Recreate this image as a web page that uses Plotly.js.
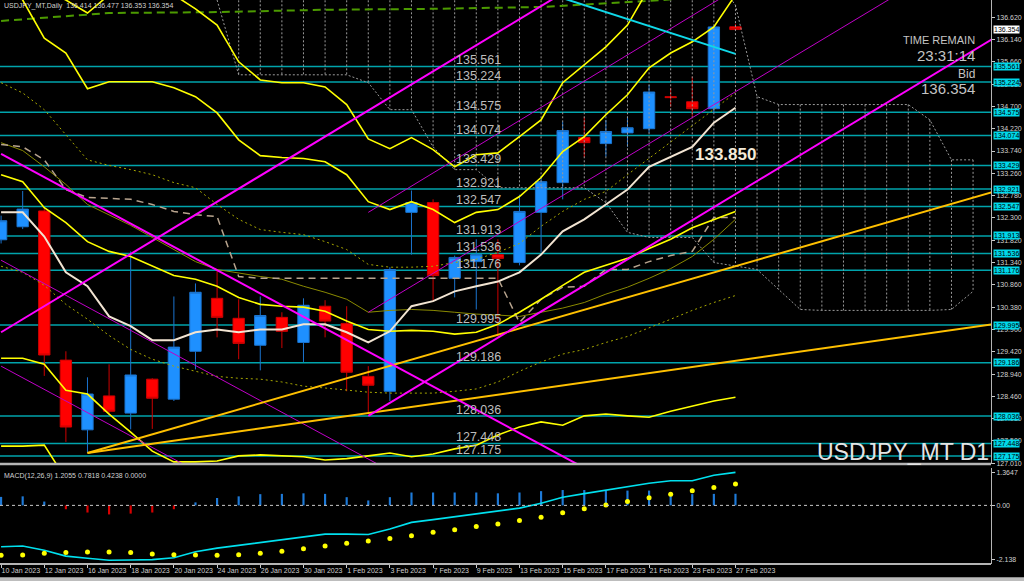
<!DOCTYPE html>
<html><head><meta charset="utf-8">
<script src="https://cdn.plot.ly/plotly-3.0.1.min.js"></script>
<style>html,body{margin:0;padding:0;background:#000;overflow:hidden}#chart{width:1024px;height:581px}</style>
</head><body><div id="chart"></div>
<script>
// ---------- data ----------
const dates = ["10 Jan 2023","11 Jan 2023","12 Jan 2023","13 Jan 2023","16 Jan 2023","17 Jan 2023","18 Jan 2023","19 Jan 2023","20 Jan 2023","23 Jan 2023","24 Jan 2023","25 Jan 2023","26 Jan 2023","27 Jan 2023","30 Jan 2023","31 Jan 2023","1 Feb 2023","2 Feb 2023","3 Feb 2023","6 Feb 2023","7 Feb 2023","8 Feb 2023","9 Feb 2023","10 Feb 2023","13 Feb 2023","14 Feb 2023","15 Feb 2023","16 Feb 2023","17 Feb 2023","20 Feb 2023","21 Feb 2023","22 Feb 2023","23 Feb 2023","24 Feb 2023","27 Feb 2023"];
const openP  = [131.83,132.11,132.45,129.24,127.74,128.47,128.10,128.83,128.40,129.43,130.57,130.14,129.56,130.16,129.62,130.40,130.03,128.89,128.57,132.42,132.63,131.00,131.36,131.51,131.34,132.42,133.06,134.03,133.90,134.13,134.22,134.91,134.80,134.65,136.414];
const highP  = [132.35,132.88,132.51,129.43,128.87,129.15,131.58,128.85,130.61,130.89,131.19,130.55,130.61,130.27,130.57,130.53,130.40,129.11,131.24,132.89,132.70,131.49,131.84,131.84,132.80,133.21,134.37,134.48,134.41,134.48,135.16,135.10,135.34,136.43,136.477];
const lowP   = [131.75,132.06,128.90,127.48,127.24,128.08,127.75,127.76,128.36,129.04,129.73,129.26,129.02,129.50,129.20,129.73,128.57,128.08,128.36,131.51,130.51,130.59,130.33,129.75,131.28,131.56,132.70,133.60,133.62,133.83,134.13,134.69,134.48,134.56,136.353];
const closeP = [132.24,132.49,129.35,127.80,128.51,128.14,128.92,128.42,129.52,130.70,130.16,129.60,130.20,129.86,130.42,130.08,128.98,128.70,131.19,132.63,131.06,131.45,131.51,131.43,132.44,133.08,134.18,133.92,134.16,134.24,135.01,134.89,134.65,136.41,136.354];

// indicator lines (one value per date)
const whiteMA   = [132.42,132.42,131.90,131.13,130.83,130.18,129.97,129.67,129.67,129.84,129.90,129.84,129.90,129.90,130.01,130.01,129.84,129.62,129.86,130.40,130.51,130.72,130.83,130.93,131.13,131.51,132.01,132.27,132.59,132.91,133.40,133.62,133.83,134.35,134.67];
const bandUpper = [137.63,137.42,137.20,136.99,136.71,137.10,137.31,137.25,137.10,136.80,136.45,135.66,135.27,135.21,135.21,135.12,134.74,134.00,133.79,134.03,133.77,133.40,133.66,133.70,134.05,134.41,135.21,135.59,135.98,136.45,137.25,137.63,137.96,138.28,138.60];
const bandMid   = [137.42,136.99,136.17,135.85,135.08,135.23,135.23,135.23,135.10,134.91,134.56,133.98,133.64,133.60,133.58,133.51,133.23,132.65,132.48,132.65,132.48,132.20,132.42,132.48,132.76,133.17,133.73,134.05,134.52,134.95,135.53,135.85,136.09,136.41,137.10];
const bandL3    = [133.23,133.08,132.52,132.20,131.79,131.58,131.47,131.26,131.06,130.98,130.83,130.59,130.44,130.40,130.38,130.29,130.08,129.90,129.86,129.88,129.86,129.80,129.84,130.01,130.27,130.55,130.85,131.13,131.28,131.43,131.64,131.84,132.09,132.27,132.44];
const bandLower = [129.28,129.28,129.15,128.59,128.51,128.08,127.69,127.28,127.05,127.05,127.07,127.18,127.20,127.18,127.16,127.09,127.12,127.18,127.24,127.16,127.22,127.33,127.41,127.63,127.80,127.91,127.84,128.04,128.08,128.04,128.01,128.14,128.25,128.36,128.44];
const bandLowest = [127.39,127.39,127.41,126.68];
const dotUpper  = [135.21,134.99,134.63,134.09,133.55,133.43,133.34,133.23,133.06,132.95,132.59,132.27,132.05,131.99,131.94,131.79,131.62,131.30,131.24,131.24,131.26,131.34,131.41,131.56,131.75,132.12,132.44,132.70,132.87,133.23,133.58,133.94,134.28,134.65,134.99];
const dotLower  = [131.26,131.13,130.85,130.44,130.12,129.77,129.47,129.26,129.11,129.00,128.89,128.85,128.83,128.77,128.68,128.64,128.59,128.55,128.53,128.53,128.53,128.57,128.62,128.77,129.00,129.20,129.37,129.47,129.62,129.75,129.93,130.12,130.31,130.48,130.63];
const oliveLine = [133.92,133.75,133.40,133.02,132.59,132.37,132.14,131.88,131.62,131.36,131.19,131.11,131.04,130.98,130.83,130.70,130.55,130.27,130.31,130.33,130.31,130.27,130.23,130.21,130.18,130.27,130.36,130.48,130.66,130.81,131.00,131.21,131.47,131.84,132.27];
const tanDash   = [133.88,133.83,133.55,132.91,132.74,132.72,132.70,132.59,132.44,132.37,132.33,131.04,131.00,131.00,131.00,131.00,131.00,131.00,131.00,131.00,131.00,131.00,131.00,131.00,130.05,130.55,130.81,130.83,131.19,131.19,131.36,131.49,131.58,132.31,132.31];
const greenIdx  = [0,5,10,15,20,25,30,34];
const greenVal  = [136.54,136.71,136.73,136.78,136.80,136.84,136.97,137.10];

// ichimoku-style cloud (bar index incl. future bars)
const cloudIdx   = [10,11,12,13,14,15,16,17,18,19,20,21,22,23,24,25,26,27,28,29,30,31,32,33,34,35,36,37,38,39,40,41,42,43,44,45];
const cloudUpper = [137.5,137.5,137.5,137.5,137.5,137.5,137.5,137.5,137.5,137.5,137.5,137.5,137.5,137.5,137.5,137.5,137.5,137.5,137.5,137.5,137.5,137.5,137.5,137.5,136.88,134.91,134.74,134.74,134.74,134.74,134.74,134.74,134.74,134.41,133.55,133.55];
const cloudLower = [136.99,135.38,135.38,135.38,135.38,135.38,135.38,135.21,134.63,134.63,133.83,133.34,133.34,132.95,132.95,132.95,132.95,132.95,132.63,131.99,131.88,131.88,131.88,131.34,131.26,131.19,130.76,130.33,130.31,130.31,130.31,130.31,130.31,130.31,130.33,130.72];

// trend lines: [start index, end index] and [start price, end price]
const magentaA_x = [0,26],  magentaA_y = [129.84,137.14];
const magentaB_x = [0,27],  magentaB_y = [133.68,126.92];
const magentaC_x = [17,46], magentaC_y = [128.04,136.18];
const purpleA_x = [0,18],   purpleA_y = [131.39,126.86];
const purpleB_x = [0,9],    purpleB_y = [129.11,126.86];
const purpleC_x = [17,34],  purpleC_y = [132.42,137.22];
const purpleD_x = [17,42],  purpleD_y = [130.27,137.25];
const goldA_x = [4,46],     goldA_y = [127.24,132.87];
const goldB_x = [4,46],     goldB_y = [127.24,130.02];
const cyanTL_x = [26,34],   cyanTL_y = [137.03,135.83];

// horizontal levels
const levels = [135.561,135.224,134.575,134.074,133.429,132.921,132.547,131.913,131.536,131.176,129.995,129.186,128.036,127.448,127.175];

// price axis labels
const priceTicks = [136.620,136.140,135.660,135.180,134.700,134.220,133.740,133.260,132.780,132.300,131.820,131.340,130.860,130.380,129.900,129.420,128.940,128.460,127.980,127.500,127.010];

// MACD panel
const macdMain   = [-1.51,-1.48,-1.64,-1.85,-1.93,-2.00,-1.99,-1.98,-1.91,-1.69,-1.56,-1.46,-1.34,-1.24,-1.14,-1.05,-1.05,-1.06,-0.86,-0.62,-0.52,-0.41,-0.30,-0.21,-0.10,0.08,0.30,0.43,0.55,0.68,0.81,0.90,0.90,1.10,1.2055];
const macdSignal = [-1.82,-1.81,-1.75,-1.72,-1.70,-1.70,-1.72,-1.77,-1.80,-1.81,-1.82,-1.80,-1.75,-1.67,-1.58,-1.48,-1.38,-1.30,-1.21,-1.11,-0.98,-0.89,-0.77,-0.68,-0.55,-0.43,-0.27,-0.12,0.01,0.14,0.28,0.41,0.53,0.65,0.7818];
const macdHist   = [0.31,0.33,0.14,-0.14,-0.26,-0.33,-0.30,-0.26,-0.14,0.11,0.27,0.33,0.41,0.42,0.44,0.42,0.30,0.18,0.30,0.47,0.47,0.47,0.47,0.44,0.47,0.52,0.56,0.56,0.54,0.54,0.54,0.48,0.41,0.42,0.4238];
const macdTicks = [1.3647,0,-2.138];

// ---------- build ----------
const idx = dates.map((d,i)=>i);
const FONT = 'Liberation Sans, Arial, sans-serif';
const traces = [];
const line = (x,y,color,width,dash,extra) => Object.assign({type:'scatter',mode:'lines',x:x,y:y,xaxis:'x',yaxis:'y',hoverinfo:'skip',showlegend:false,line:{color:color,width:width,dash:dash||'solid'}},extra||{});

// cloud verticals
const cvx=[], cvy=[];
cloudIdx.forEach((x,k)=>{cvx.push(x,x,null); cvy.push(cloudUpper[k],cloudLower[k],null);});
traces.push(line(cvx,cvy,'#9a9a9a',1,'2px,2px',{connectgaps:false}));
traces.push(line(cloudIdx,cloudUpper,'#9a9a9a',1,'2px,2px'));
traces.push(line(cloudIdx,cloudLower,'#9a9a9a',1,'2px,2px'));

// candles
traces.push({type:'candlestick',x:idx,open:openP,high:highP,low:lowP,close:closeP,xaxis:'x',yaxis:'y',
  increasing:{line:{color:'#1b74cf',width:1},fillcolor:'#1e90ff'},
  decreasing:{line:{color:'#cc0000',width:1},fillcolor:'#ff0000'},
  whiskerwidth:0,hoverinfo:'skip',showlegend:false});

// indicator lines
traces.push(line(greenIdx,greenVal,'#4c9a00',2,'8px,5px'));
traces.push(line(idx,oliveLine,'#8a8a00',1));
traces.push(line(idx,dotUpper,'#a6a600',1,'2px,3px'));
traces.push(line(idx,dotLower,'#a6a600',1,'2px,3px'));
traces.push(line(idx,tanDash,'#b8a48e',1.5,'7px,5px'));
traces.push(line(idx,bandL3,'#ffff00',1.6));
traces.push(line(idx,bandUpper,'#ffff00',1.6));
traces.push(line(idx,bandMid,'#ffff00',1.6));
traces.push(line(idx,bandLower,'#ffff00',1.6));
traces.push(line(idx.slice(0,bandLowest.length),bandLowest,'#ffff00',1.6));
traces.push(line(idx,whiteMA,'#f2e4d2',2));

// trend lines
traces.push(line(purpleA_x,purpleA_y,'#c000c8',1));
traces.push(line(purpleB_x,purpleB_y,'#c000c8',1));
traces.push(line(purpleC_x,purpleC_y,'#c000c8',1));
traces.push(line(purpleD_x,purpleD_y,'#c000c8',1));
traces.push(line(goldA_x,goldA_y,'#ffc000',2));
traces.push(line(goldB_x,goldB_y,'#ffc000',2));
traces.push(line(magentaA_x,magentaA_y,'#ff00ff',2));
traces.push(line(magentaB_x,magentaB_y,'#ff00ff',2));
traces.push(line(magentaC_x,magentaC_y,'#ff00ff',2));
traces.push(line(cyanTL_x,cyanTL_y,'#10d8e8',2));

// MACD
traces.push({type:'bar',x:idx,y:macdHist,xaxis:'x',yaxis:'y2',width:0.1,
  marker:{color:macdHist.map(v=>v>=0?'#1e7ad8':'#d80000'),line:{width:0}},hoverinfo:'skip',showlegend:false});
traces.push({type:'scatter',mode:'lines',x:idx,y:macdMain,xaxis:'x',yaxis:'y2',line:{color:'#00e0ee',width:1.6},hoverinfo:'skip',showlegend:false});
traces.push({type:'scatter',mode:'markers',x:idx,y:macdSignal,xaxis:'x',yaxis:'y2',marker:{color:'#ffff00',size:5},hoverinfo:'skip',showlegend:false});

// shapes
const shapes = levels.map(v=>({type:'line',xref:'paper',x0:0,x1:1,yref:'y',y0:v,y1:v,layer:'below',line:{color:'#00a3ab',width:1.5}}));
shapes.push({type:'line',xref:'paper',x0:0,x1:1,yref:'y2',y0:0,y1:0,line:{color:'#c8c8c8',width:1,dash:'3px,3px'}});
shapes.push({type:'line',xref:'paper',x0:0,x1:1,yref:'y domain',y0:0,y1:0,line:{color:'#b4b4b4',width:2.5}});
shapes.push({type:'line',xref:'paper',x0:0,x1:1,yref:'y2 domain',y0:0,y1:0,line:{color:'#b4b4b4',width:2}});
shapes.push({type:'rect',xref:'paper',x0:-0.01,x1:1.04,yref:'paper',y0:-0.0215,y1:-0.03,fillcolor:'#bdbdbd',line:{width:0}});

// annotations
const ann = [];
ann.push({xref:'paper',yref:'y domain',x:0,y:1,xanchor:'left',yanchor:'top',xshift:2,yshift:0,showarrow:false,
  text:'USDJPY_MT,Daily  136.414 136.477 136.353 136.354',font:{family:FONT,size:7,color:'#d0d0d0'}});
levels.forEach(v=>{
  ann.push({xref:'x',yref:'y',x:20.97,y:v,xanchor:'left',yanchor:'bottom',yshift:-3,showarrow:false,
    text:v.toFixed(3),font:{family:FONT,size:12.5,color:'#bdbdbd'}});
  ann.push({xref:'paper',yref:'y',x:1,y:v,xanchor:'left',yanchor:'middle',xshift:2,showarrow:false,
    text:v.toFixed(3),bgcolor:'#00d8ea',borderpad:0,font:{family:FONT,size:7,color:'#000'}});
});
ann.push({xref:'paper',yref:'y',x:1,y:closeP[closeP.length-1],xanchor:'left',yanchor:'middle',xshift:2,showarrow:false,
  text:closeP[closeP.length-1].toFixed(3),bgcolor:'#ffffff',borderpad:0,font:{family:FONT,size:7,color:'#000'}});
ann.push({xref:'x',yref:'y domain',x:32.05,y:0.666,xanchor:'left',yanchor:'middle',showarrow:false,
  text:'<b>133.850</b>',font:{family:FONT,size:17,color:'#f4ead8'}});
ann.push({xref:'paper',yref:'y domain',x:0.986,y:0.914,xanchor:'right',yanchor:'middle',showarrow:false,text:'TIME REMAIN',font:{family:FONT,size:11,color:'#c4c4c4'}});
ann.push({xref:'paper',yref:'y domain',x:0.986,y:0.881,xanchor:'right',yanchor:'middle',showarrow:false,text:'23:31:14',font:{family:FONT,size:15,color:'#c4c4c4'}});
ann.push({xref:'paper',yref:'y domain',x:0.986,y:0.841,xanchor:'right',yanchor:'middle',showarrow:false,text:'Bid',font:{family:FONT,size:12,color:'#c4c4c4'}});
ann.push({xref:'paper',yref:'y domain',x:0.986,y:0.810,xanchor:'right',yanchor:'middle',showarrow:false,text:'136.354',font:{family:FONT,size:15,color:'#c4c4c4'}});
ann.push({xref:'paper',yref:'y domain',x:1,y:0,xanchor:'right',yanchor:'bottom',yshift:-3,showarrow:false,text:'USDJPY_MT D1',font:{family:FONT,size:23,color:'#e4e4e4'}});
ann.push({xref:'paper',yref:'y2 domain',x:0,y:1,xanchor:'left',yanchor:'top',xshift:2,yshift:-2,showarrow:false,
  text:'MACD(12,26,9) 1.2055 0.7818 0.4238 0.0000',font:{family:FONT,size:7,color:'#d0d0d0'}});

const tickIdx = idx.filter(i=>i%2===0);
const layout = {
  width:1024,height:581,margin:{l:0,r:33,t:0,b:16,pad:0},
  paper_bgcolor:'#000',plot_bgcolor:'#000',showlegend:false,boxgap:0.25,
  font:{family:FONT,color:'#d0d0d0',size:7},
  xaxis:{anchor:'y2',range:[-0.05,45.83],showgrid:false,zeroline:false,showline:false,rangeslider:{visible:false},
    tickmode:'array',tickvals:tickIdx,ticktext:tickIdx.map(i=>dates[i]),ticks:'outside',ticklen:3,tickcolor:'#c8c8c8',
    tickangle:0,automargin:false,ticklabelposition:'outside right',tickfont:{family:FONT,size:7,color:'#d0d0d0'}},
  yaxis:{domain:[0.1788,1],side:'right',range:[127.005,136.99],showgrid:false,zeroline:false,showline:true,linecolor:'#b4b4b4',linewidth:1,
    tickmode:'array',tickvals:priceTicks,ticktext:priceTicks.map(v=>v.toFixed(3)),ticks:'outside',ticklen:3,tickcolor:'#c8c8c8',
    automargin:false,tickfont:{family:FONT,size:7,color:'#d0d0d0'}},
  yaxis2:{domain:[0.0018,0.1717],side:'right',anchor:'x',range:[-2.138,1.3647],showgrid:false,zeroline:false,showline:true,linecolor:'#b4b4b4',linewidth:1,
    tickmode:'array',tickvals:[1.2,0,-1.99],ticktext:macdTicks.map(v=>v===0?'0.00':String(v)),ticks:'outside',ticklen:3,tickcolor:'#c8c8c8',
    automargin:false,tickfont:{family:FONT,size:7,color:'#d0d0d0'}},
  shapes:shapes,annotations:ann
};
Plotly.newPlot('chart',traces,layout,{staticPlot:true,displayModeBar:false});
</script></body></html>
